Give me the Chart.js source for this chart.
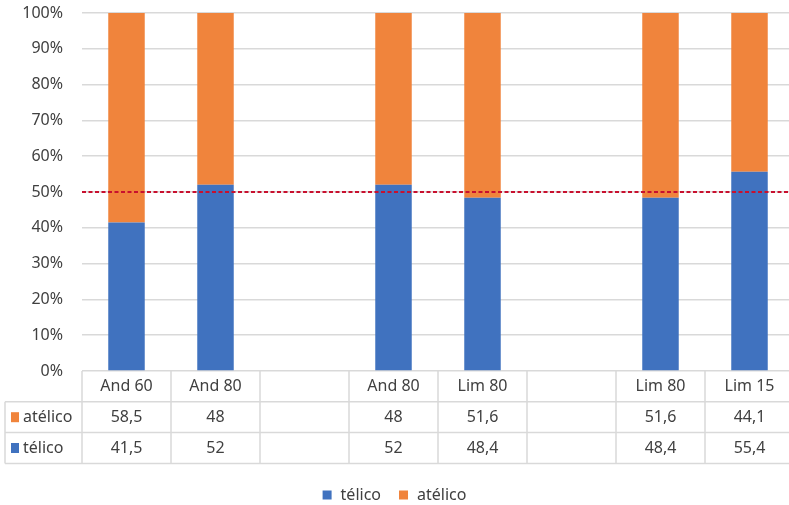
<!DOCTYPE html>
<html>
<head>
<meta charset="utf-8">
<script src="https://cdn.jsdelivr.net/npm/chart.js@4"></script>
<style>
  html, body { margin: 0; padding: 0; background: #fff; overflow: hidden; }
  #wrap { width: 800px; height: 505px; }
</style>
</head>
<body>
<div id="wrap"><canvas id="c" width="800" height="505"></canvas></div>
<script>
// Categories (blank entries are spacer columns between the groups)
const categories = ['And 60', 'And 80', '', 'And 80', 'Lim 80', '', 'Lim 80', 'Lim 15'];
// Raw values per series, as listed in the data table
const telico  = [41.5, 52, null, 52, 48.4, null, 48.4, 55.4];
const atelico = [58.5, 48, null, 48, 51.6, null, 51.6, 44.1];
const seriesNames = ['télico', 'atélico'];
const yTickValues = [0, 10, 20, 30, 40, 50, 60, 70, 80, 90, 100];
const referenceLine = 50;

const BLUE = '#4072bf';
const ORANGE = '#f0843c';
const TEXT = '#404040';
const GRID = '#d9d9d9';
const FONT = '"Noto Sans", sans-serif';
const FS = 16;

// 100% stacking: each column is shown as a share of its own total
function share(values, i) {
  const v = values[i];
  if (v == null) return null;
  return v / (telico[i] + atelico[i]) * 100;
}
const telicoPct = categories.map((_, i) => share(telico, i));
const atelicoPct = categories.map((_, i) => share(atelico, i));

const fmt = v => (v == null ? '' : String(v).replace('.', ','));

// Data table under the plot, plus the dashed 50% line and the legend
const tablePlugin = {
  id: 'dataTable',
  afterDatasetsDraw(chart) {
    const { ctx, chartArea, scales } = chart;
    const y = scales.y.getPixelForValue(referenceLine);
    ctx.save();
    ctx.strokeStyle = '#c8102e';
    ctx.lineWidth = 2;
    ctx.setLineDash([4, 2.5]);
    ctx.beginPath();
    ctx.moveTo(chartArea.left, y);
    ctx.lineTo(chartArea.right, y);
    ctx.stroke();
    ctx.restore();
  },
  afterDraw(chart) {
    const { ctx, chartArea, scales } = chart;
    const x = scales.x;
    const n = categories.length;
    const colW = (chartArea.right - chartArea.left) / n;
    const top = chartArea.bottom;
    const rowH = 30.8;
    const labelLeft = 5;
    const rows = [
      { name: seriesNames[1], values: atelico, color: ORANGE },
      { name: seriesNames[0], values: telico, color: BLUE }
    ];
    const bottom = top + rowH * (rows.length + 1);

    ctx.save();
    ctx.strokeStyle = GRID;
    ctx.lineWidth = 1.5;
    // horizontal rules
    ctx.beginPath();
    for (let r = 1; r <= rows.length + 1; r++) {
      const yy = top + rowH * r;
      ctx.moveTo(labelLeft, yy);
      ctx.lineTo(chartArea.right, yy);
    }
    // vertical rules
    for (let i = 0; i <= n; i++) {
      const xx = chartArea.left + colW * i;
      ctx.moveTo(xx, top);
      ctx.lineTo(xx, bottom);
    }
    ctx.moveTo(labelLeft, top + rowH);
    ctx.lineTo(labelLeft, bottom);
    ctx.stroke();

    ctx.fillStyle = TEXT;
    ctx.font = FS + 'px ' + FONT;
    ctx.textBaseline = 'middle';
    ctx.textAlign = 'center';
    categories.forEach((c, i) => {
      ctx.fillText(c, x.getPixelForValue(i), top + rowH / 2);
    });
    rows.forEach((row, r) => {
      const cy = top + rowH * (r + 1.5);
      ctx.textAlign = 'center';
      ctx.fillStyle = TEXT;
      row.values.forEach((v, i) => {
        ctx.fillText(fmt(v), x.getPixelForValue(i), cy);
      });
      ctx.fillStyle = row.color;
      ctx.fillRect(11, cy - 5, 8, 10);
      ctx.fillStyle = TEXT;
      ctx.textAlign = 'left';
      ctx.fillText(row.name, 23, cy);
    });

    // legend
    const items = chart.data.datasets.map(d => ({ name: d.label, color: d.backgroundColor }));
    const box = 9, gap = 9, between = 18;
    const widths = items.map(it => box + gap + ctx.measureText(it.name).width);
    const total = widths.reduce((a, b) => a + b, 0) + between * (items.length - 1);
    let lx = 394.5 - total / 2;
    const ly = 495;
    ctx.textAlign = 'left';
    items.forEach((it, k) => {
      ctx.fillStyle = it.color;
      ctx.fillRect(lx, ly - box / 2, box, box);
      ctx.fillStyle = TEXT;
      ctx.fillText(it.name, lx + box + gap, ly);
      lx += widths[k] + between;
    });
    ctx.restore();
  }
};

new Chart(document.getElementById('c'), {
  type: 'bar',
  data: {
    labels: categories,
    datasets: [
      { label: seriesNames[0], data: telicoPct, backgroundColor: BLUE },
      { label: seriesNames[1], data: atelicoPct, backgroundColor: ORANGE }
    ]
  },
  options: {
    responsive: false,
    animation: false,
    layout: { padding: { left: 0, right: 6, top: 13, bottom: 134 } },
    datasets: { bar: { categoryPercentage: 1, barPercentage: 0.41 } },
    plugins: { legend: { display: false }, tooltip: { enabled: false } },
    scales: {
      x: { stacked: true, display: false },
      y: {
        stacked: true,
        min: 0,
        max: 100,
        afterFit(s) { s.width = 82; s.paddingTop = 0; s.paddingBottom = 0; },
        afterBuildTicks(s) { s.ticks = yTickValues.map(v => ({ value: v })); },
        border: { display: false },
        grid: { color: GRID, lineWidth: 1.5, drawTicks: false },
        ticks: {
          padding: 19,
          color: TEXT,
          font: { family: FONT, size: FS },
          callback: v => v + '%'
        }
      }
    }
  },
  plugins: [tablePlugin]
});
</script>
</body>
</html>
